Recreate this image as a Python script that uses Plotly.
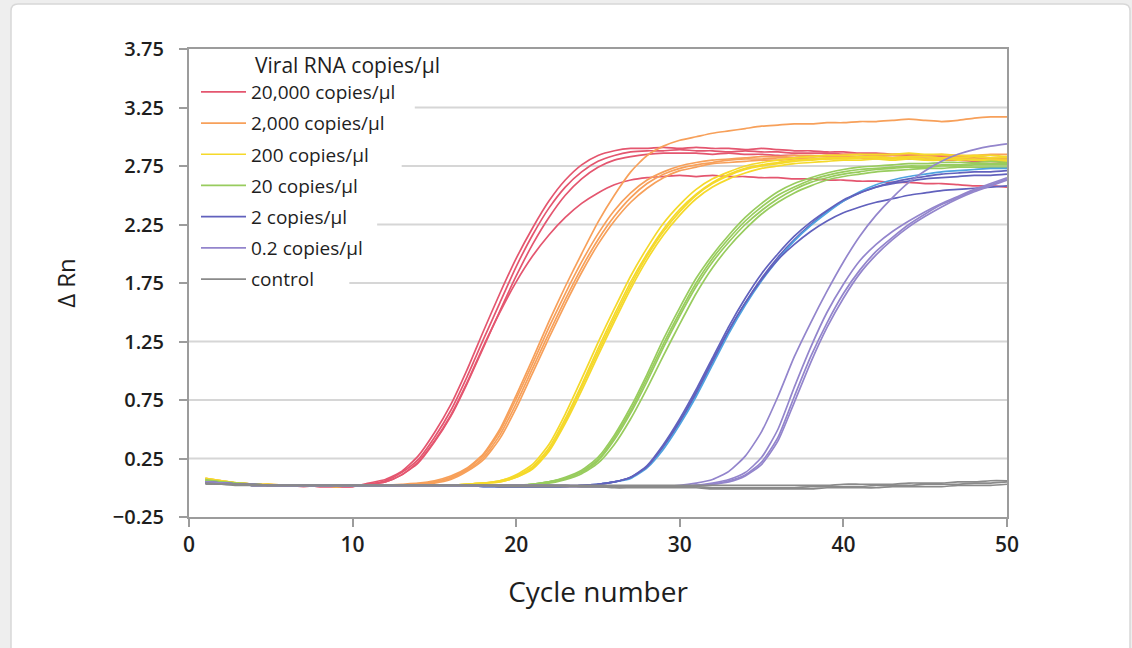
import plotly.graph_objects as go

# ---------------- data ----------------
CYCLES = list(range(1, 51))

RED_1 = [0.07,0.05,0.04,0.03,0.02,0.02,0.02,0.01,0.01,0.01,
         0.04,0.07,0.14,0.27,0.47,0.71,1.01,1.34,1.66,1.96,
         2.22,2.45,2.63,2.76,2.84,2.88,2.90,2.90,2.91,2.90,
         2.91,2.90,2.90,2.89,2.90,2.89,2.88,2.88,2.87,2.87,
         2.86,2.86,2.85,2.85,2.84,2.84,2.83,2.83,2.82,2.82]
RED_2 = [0.06,0.04,0.03,0.03,0.02,0.02,0.02,0.02,0.01,0.01,
         0.03,0.06,0.13,0.24,0.43,0.66,0.95,1.27,1.58,1.89,
         2.16,2.39,2.57,2.70,2.79,2.84,2.87,2.88,2.88,2.89,
         2.88,2.88,2.87,2.88,2.87,2.87,2.86,2.86,2.86,2.85,
         2.85,2.84,2.84,2.84,2.83,2.83,2.82,2.82,2.81,2.81]
RED_3 = [0.05,0.04,0.03,0.02,0.02,0.02,0.01,0.02,0.02,0.02,
         0.03,0.05,0.11,0.21,0.39,0.61,0.89,1.20,1.51,1.81,
         2.08,2.31,2.50,2.64,2.74,2.80,2.83,2.85,2.86,2.86,
         2.86,2.85,2.86,2.85,2.85,2.84,2.84,2.83,2.84,2.83,
         2.83,2.82,2.82,2.81,2.81,2.80,2.80,2.79,2.79,2.78]
RED_4 = [0.06,0.05,0.03,0.03,0.02,0.02,0.02,0.01,0.01,0.02,
         0.03,0.05,0.11,0.22,0.40,0.62,0.90,1.21,1.50,1.76,
         1.98,2.16,2.31,2.43,2.52,2.59,2.63,2.65,2.66,2.67,
         2.66,2.67,2.66,2.66,2.65,2.65,2.64,2.64,2.63,2.63,
         2.62,2.62,2.61,2.61,2.60,2.60,2.59,2.58,2.58,2.57]

ORANGE_1 = [0.08,0.06,0.04,0.03,0.03,0.02,0.02,0.02,0.02,0.02,
            0.02,0.02,0.03,0.04,0.06,0.10,0.17,0.29,0.50,0.79,
            1.10,1.42,1.72,2.00,2.27,2.50,2.70,2.84,2.92,2.97,
            3.00,3.03,3.05,3.07,3.09,3.10,3.11,3.11,3.12,3.12,
            3.13,3.13,3.14,3.15,3.14,3.13,3.14,3.16,3.17,3.17]
ORANGE_2 = [0.07,0.05,0.04,0.03,0.02,0.02,0.02,0.02,0.02,0.02,
            0.02,0.02,0.02,0.03,0.05,0.09,0.16,0.28,0.48,0.76,
            1.06,1.37,1.66,1.93,2.17,2.37,2.52,2.63,2.70,2.75,
            2.78,2.80,2.81,2.82,2.83,2.83,2.84,2.84,2.84,2.85,
            2.85,2.84,2.85,2.85,2.84,2.85,2.84,2.84,2.85,2.85]
ORANGE_3 = [0.06,0.05,0.03,0.03,0.02,0.02,0.02,0.02,0.01,0.02,
            0.02,0.02,0.02,0.03,0.05,0.08,0.15,0.26,0.45,0.72,
            1.02,1.32,1.61,1.88,2.12,2.32,2.48,2.60,2.68,2.73,
            2.76,2.78,2.80,2.81,2.81,2.82,2.82,2.83,2.83,2.83,
            2.83,2.83,2.84,2.83,2.83,2.84,2.83,2.83,2.82,2.83]
ORANGE_4 = [0.05,0.04,0.03,0.02,0.02,0.02,0.02,0.02,0.02,0.02,
            0.02,0.02,0.02,0.03,0.04,0.07,0.14,0.24,0.42,0.68,
            0.98,1.28,1.57,1.84,2.08,2.28,2.44,2.56,2.65,2.71,
            2.74,2.77,2.78,2.79,2.80,2.80,2.81,2.81,2.81,2.82,
            2.82,2.81,2.82,2.82,2.81,2.81,2.82,2.81,2.81,2.80]

YELLOW_1 = [0.08,0.06,0.04,0.03,0.02,0.02,0.02,0.02,0.02,0.02,
            0.02,0.02,0.02,0.02,0.02,0.02,0.03,0.04,0.06,0.11,
            0.20,0.37,0.63,0.93,1.24,1.53,1.81,2.05,2.26,2.42,
            2.55,2.64,2.70,2.75,2.78,2.80,2.82,2.83,2.84,2.84,
            2.85,2.85,2.85,2.86,2.85,2.85,2.84,2.84,2.84,2.83]
YELLOW_2 = [0.07,0.05,0.04,0.03,0.02,0.02,0.02,0.02,0.02,0.02,
            0.02,0.02,0.02,0.02,0.02,0.02,0.03,0.04,0.06,0.10,
            0.18,0.34,0.59,0.88,1.19,1.48,1.76,2.00,2.21,2.38,
            2.51,2.61,2.68,2.73,2.76,2.78,2.80,2.81,2.82,2.82,
            2.83,2.83,2.82,2.83,2.83,2.82,2.82,2.83,2.82,2.82]
YELLOW_3 = [0.06,0.05,0.03,0.03,0.02,0.02,0.02,0.02,0.01,0.02,
            0.02,0.02,0.02,0.02,0.02,0.02,0.03,0.04,0.05,0.09,
            0.16,0.31,0.55,0.83,1.13,1.42,1.70,1.95,2.16,2.33,
            2.47,2.57,2.64,2.69,2.73,2.75,2.77,2.78,2.79,2.80,
            2.80,2.81,2.80,2.81,2.80,2.80,2.81,2.80,2.80,2.79]
YELLOW_4 = [0.08,0.06,0.04,0.03,0.03,0.02,0.02,0.02,0.02,0.02,
            0.02,0.02,0.02,0.02,0.02,0.02,0.03,0.04,0.05,0.09,
            0.17,0.32,0.57,0.86,1.16,1.45,1.73,1.98,2.19,2.36,
            2.50,2.60,2.67,2.72,2.75,2.77,2.79,2.80,2.81,2.81,
            2.82,2.82,2.81,2.82,2.81,2.81,2.80,2.81,2.80,2.80]

GREEN_1 = [0.06,0.05,0.03,0.03,0.02,0.02,0.02,0.02,0.02,0.02,
           0.02,0.02,0.02,0.02,0.02,0.02,0.02,0.02,0.02,0.02,
           0.03,0.05,0.09,0.15,0.26,0.45,0.69,0.97,1.27,1.54,
           1.79,1.99,2.16,2.31,2.43,2.53,2.60,2.65,2.69,2.72,
           2.74,2.75,2.76,2.77,2.77,2.78,2.78,2.78,2.79,2.78]
GREEN_2 = [0.07,0.05,0.04,0.03,0.02,0.02,0.02,0.02,0.02,0.02,
           0.02,0.02,0.02,0.02,0.02,0.02,0.02,0.02,0.02,0.02,
           0.03,0.05,0.08,0.13,0.23,0.41,0.64,0.91,1.20,1.47,
           1.72,1.93,2.10,2.25,2.37,2.47,2.55,2.61,2.65,2.68,
           2.70,2.72,2.73,2.74,2.74,2.75,2.75,2.76,2.76,2.76]
GREEN_3 = [0.05,0.04,0.03,0.02,0.02,0.02,0.02,0.02,0.02,0.02,
           0.02,0.02,0.02,0.02,0.02,0.02,0.02,0.02,0.02,0.02,
           0.03,0.04,0.07,0.12,0.21,0.37,0.59,0.85,1.13,1.40,
           1.66,1.88,2.06,2.21,2.34,2.44,2.52,2.58,2.63,2.66,
           2.68,2.70,2.71,2.72,2.73,2.73,2.74,2.74,2.74,2.74]
GREEN_4 = [0.06,0.04,0.03,0.03,0.02,0.02,0.02,0.02,0.02,0.02,
           0.02,0.02,0.02,0.02,0.02,0.02,0.02,0.02,0.02,0.02,
           0.03,0.05,0.08,0.14,0.24,0.43,0.66,0.94,1.23,1.50,
           1.75,1.96,2.13,2.28,2.40,2.50,2.57,2.63,2.67,2.70,
           2.72,2.73,2.74,2.75,2.75,2.76,2.76,2.77,2.77,2.77]

BLUE_1 = [0.05,0.04,0.03,0.02,0.02,0.02,0.02,0.02,0.02,0.02,
          0.02,0.02,0.02,0.02,0.02,0.02,0.02,0.02,0.01,0.01,
          0.01,0.01,0.01,0.02,0.03,0.05,0.09,0.18,0.35,0.56,
          0.80,1.07,1.34,1.58,1.79,1.97,2.12,2.25,2.36,2.45,
          2.52,2.57,2.61,2.64,2.66,2.68,2.69,2.70,2.70,2.71]
BLUE_2 = [0.04,0.03,0.03,0.02,0.02,0.02,0.02,0.02,0.02,0.02,
          0.02,0.02,0.02,0.02,0.02,0.02,0.02,0.01,0.01,0.01,
          0.01,0.01,0.01,0.02,0.03,0.05,0.08,0.17,0.33,0.54,
          0.78,1.05,1.32,1.56,1.77,1.95,2.11,2.24,2.35,2.45,
          2.53,2.59,2.63,2.66,2.68,2.70,2.71,2.72,2.73,2.73]
BLUE_3 = [0.05,0.04,0.03,0.03,0.02,0.02,0.02,0.02,0.02,0.02,
          0.02,0.02,0.02,0.02,0.02,0.02,0.02,0.02,0.01,0.01,
          0.01,0.01,0.01,0.02,0.03,0.05,0.09,0.19,0.37,0.59,
          0.84,1.11,1.38,1.62,1.83,2.00,2.15,2.27,2.37,2.46,
          2.52,2.57,2.60,2.62,2.64,2.65,2.66,2.67,2.67,2.68]
BLUE_4 = [0.04,0.04,0.03,0.02,0.02,0.02,0.02,0.02,0.02,0.02,
          0.02,0.02,0.02,0.02,0.02,0.02,0.02,0.01,0.01,0.01,
          0.01,0.01,0.01,0.02,0.03,0.05,0.09,0.18,0.36,0.57,
          0.82,1.09,1.35,1.58,1.78,1.95,2.08,2.19,2.28,2.35,
          2.40,2.44,2.47,2.50,2.52,2.54,2.55,2.56,2.57,2.58]

PURPLE_1 = [0.05,0.04,0.03,0.02,0.02,0.02,0.02,0.02,0.02,0.02,
            0.02,0.02,0.02,0.02,0.02,0.02,0.02,0.02,0.02,0.02,
            0.02,0.02,0.02,0.02,0.01,0.01,0.01,0.01,0.01,0.02,
            0.04,0.07,0.14,0.27,0.48,0.78,1.12,1.41,1.68,1.93,
            2.15,2.33,2.48,2.61,2.71,2.79,2.85,2.89,2.92,2.94]
PURPLE_2 = [0.05,0.04,0.03,0.03,0.02,0.02,0.02,0.02,0.02,0.02,
            0.02,0.02,0.02,0.02,0.02,0.02,0.02,0.02,0.02,0.02,
            0.02,0.02,0.02,0.01,0.01,0.01,0.01,0.01,0.01,0.01,
            0.02,0.04,0.07,0.13,0.26,0.50,0.86,1.20,1.50,1.74,
            1.94,2.08,2.19,2.28,2.36,2.43,2.49,2.55,2.60,2.65]
PURPLE_3 = [0.04,0.03,0.03,0.02,0.02,0.02,0.02,0.02,0.02,0.02,
            0.02,0.02,0.02,0.02,0.02,0.02,0.02,0.02,0.02,0.02,
            0.02,0.02,0.01,0.01,0.01,0.01,0.01,0.01,0.01,0.01,
            0.02,0.03,0.06,0.11,0.22,0.43,0.78,1.12,1.41,1.66,
            1.86,2.02,2.14,2.25,2.34,2.42,2.48,2.54,2.59,2.64]
PURPLE_4 = [0.05,0.04,0.03,0.02,0.02,0.02,0.02,0.02,0.02,0.02,
            0.02,0.02,0.02,0.02,0.02,0.02,0.02,0.02,0.02,0.02,
            0.02,0.02,0.01,0.01,0.01,0.01,0.01,0.01,0.01,0.01,
            0.02,0.03,0.05,0.10,0.20,0.40,0.73,1.07,1.37,1.62,
            1.83,1.99,2.12,2.23,2.32,2.40,2.47,2.53,2.58,2.63]

CONTROL_1 = [0.04,0.03,0.03,0.02,0.02,0.02,0.02,0.02,0.02,0.02,
             0.02,0.02,0.02,0.02,0.02,0.02,0.02,0.02,0.02,0.02,
             0.02,0.02,0.02,0.01,0.01,0.01,0.01,0.01,0.01,0.01,
             0.01,0.00,0.00,0.00,0.00,0.00,0.00,0.01,0.01,0.01,
             0.01,0.02,0.02,0.02,0.03,0.03,0.03,0.04,0.04,0.05]
CONTROL_2 = [0.03,0.03,0.02,0.02,0.02,0.02,0.02,0.02,0.02,0.02,
             0.02,0.02,0.02,0.02,0.02,0.02,0.02,0.02,0.01,0.01,
             0.01,0.01,0.01,0.01,0.01,0.00,0.00,0.00,0.00,0.00,
             0.00,-0.01,-0.01,-0.01,-0.01,-0.01,-0.01,-0.01,0.00,0.00,
             0.00,0.00,0.01,0.01,0.01,0.01,0.02,0.02,0.02,0.03]
CONTROL_3 = [0.04,0.03,0.03,0.03,0.02,0.02,0.02,0.02,0.02,0.02,
             0.02,0.02,0.02,0.02,0.02,0.02,0.02,0.02,0.02,0.02,
             0.02,0.02,0.02,0.02,0.02,0.02,0.02,0.02,0.02,0.02,
             0.02,0.02,0.02,0.02,0.02,0.02,0.02,0.02,0.02,0.03,
             0.03,0.03,0.03,0.04,0.04,0.04,0.05,0.05,0.06,0.06]

GROUP_NAMES = ["20,000 copies/µl", "2,000 copies/µl", "200 copies/µl",
               "20 copies/µl", "2 copies/µl", "0.2 copies/µl", "control"]
GROUP_SERIES = [
    [RED_1, RED_2, RED_3, RED_4],
    [ORANGE_1, ORANGE_2, ORANGE_3, ORANGE_4],
    [YELLOW_1, YELLOW_2, YELLOW_3, YELLOW_4],
    [GREEN_1, GREEN_2, GREEN_3, GREEN_4],
    [BLUE_1, BLUE_2, BLUE_3, BLUE_4],
    [PURPLE_1, PURPLE_2, PURPLE_3, PURPLE_4],
    [CONTROL_1, CONTROL_2, CONTROL_3],
]
LEGEND_TITLE = "Viral RNA copies/µl"
X_TICKS = [0, 10, 20, 30, 40, 50]
Y_TICKS = [-0.25, 0.25, 0.75, 1.25, 1.75, 2.25, 2.75, 3.25, 3.75]

# ---------------- styles ----------------
GROUP_COLORS = ["#e4566f", "#f7a05a", "#f5d92a", "#98cc5e", "#6161bd", "#9385cc", "#8a8a8a"]
REPLICATE_OVERRIDE = {(4, 1): "#4fa3e0"}   # light-blue replicate in the "2 copies" group
GRID_START = {3.25: 13.8, 2.75: 13.0, 2.25: 11.5, 1.75: 9.8}  # gridlines pass behind legend text
AXIS_COLOR = "#9c9c9c"
GRID_COLOR = "#d6d6d6"
FONT = "Open Sans"
TEXT = "#1e1e1e"

W, H = 1132, 648
L, R, T, B = 189, 125, 49, 131
PW, PH = W - L - R, H - T - B


def px_to_paper_x(px):
    return (px - L) / PW


def px_to_paper_y(py):
    return (H - B - py) / PH


fig = go.Figure()
for gi, (name, series) in enumerate(zip(GROUP_NAMES, GROUP_SERIES)):
    for ri, ys in enumerate(series):
        color = REPLICATE_OVERRIDE.get((gi, ri), GROUP_COLORS[gi])
        fig.add_trace(go.Scatter(
            x=CYCLES, y=ys, mode="lines", name=name,
            legendgroup=name, showlegend=(ri == 0),
            line=dict(color=color, width=1.7, shape="spline", smoothing=0.6),
            hoverinfo="x+y+name",
        ))

shapes = []
# white rounded card on light grey page
x0, x1 = px_to_paper_x(11), px_to_paper_x(1130)
y0, y1 = px_to_paper_y(662), px_to_paper_y(4)
rx, ry = 7 / PW, 7 / PH
card_path = (f"M {x0+rx},{y1} L {x1-rx},{y1} Q {x1},{y1} {x1},{y1-ry} "
             f"L {x1},{y0+ry} Q {x1},{y0} {x1-rx},{y0} L {x0+rx},{y0} "
             f"Q {x0},{y0} {x0},{y0+ry} L {x0},{y1-ry} Q {x0},{y1} {x0+rx},{y1} Z")
shapes.append(dict(type="path", path=card_path, xref="paper", yref="paper",
                   fillcolor="white", line=dict(color="#d8d8d8", width=1.5), layer="below"))
for v in Y_TICKS[1:-1]:
    shapes.append(dict(type="line", xref="x", yref="y", x0=GRID_START.get(v, 0), x1=50,
                       y0=v, y1=v, line=dict(color=GRID_COLOR, width=2), layer="below"))

fig.update_layout(
    width=W, height=H,
    margin=dict(l=L, r=R, t=T, b=B),
    paper_bgcolor="#eeeeee",
    plot_bgcolor="rgba(0,0,0,0)",
    font=dict(family=FONT, color=TEXT),
    shapes=shapes,
    showlegend=True,
    legend=dict(x=px_to_paper_x(196), y=px_to_paper_y(73), xanchor="left", yanchor="top",
                bgcolor="rgba(0,0,0,0)", borderwidth=0, font=dict(size=19, color=TEXT),
                itemwidth=45, tracegroupgap=3.5, itemclick=False, itemdoubleclick=False),
    annotations=[dict(text=LEGEND_TITLE, xref="paper", yref="paper",
                      x=px_to_paper_x(253), y=px_to_paper_y(65), xanchor="left", yanchor="middle",
                      showarrow=False, font=dict(size=21, color=TEXT))],
    xaxis=dict(range=[0, 50], tickvals=X_TICKS, showline=True, linecolor=AXIS_COLOR, linewidth=2,
               mirror=True, ticks="outside", ticklen=8, tickwidth=2, tickcolor=AXIS_COLOR,
               showgrid=False, zeroline=False, tickfont=dict(size=21, color=TEXT, weight=600),
               title=dict(text="Cycle number", font=dict(size=28, color=TEXT), standoff=25)),
    yaxis=dict(range=[-0.25, 3.75], tickvals=Y_TICKS, tickformat=".2f", showline=True,
               linecolor=AXIS_COLOR, linewidth=2, mirror=True, ticks="outside", ticklen=8,
               tickwidth=2, tickcolor=AXIS_COLOR, showgrid=False, zeroline=False,
               tickfont=dict(size=20, color=TEXT, weight=600), ticklabelstandoff=11,
               title=dict(text="Δ Rn", font=dict(size=24, color=TEXT), standoff=30)),
)

fig.write_html("out.html", config={"displayModeBar": False},
               post_script="document.body.style.margin='0';document.body.style.overflow='hidden';")
